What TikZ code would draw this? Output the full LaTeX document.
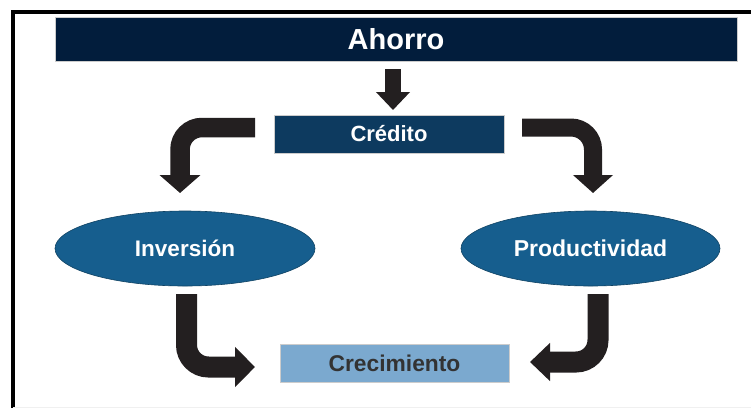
\documentclass[tikz,border=0pt]{standalone}
\usepackage{fontspec}
\setmainfont{Liberation Sans}
\usetikzlibrary{arrows.meta,shapes.geometric}
\definecolor{navy}{HTML}{021D3C}
\definecolor{credblue}{HTML}{0D3A5F}
\definecolor{ellblue}{HTML}{165E8E}
\definecolor{lightblue}{HTML}{7BA9CF}
\definecolor{arrowblack}{HTML}{231F20}
\definecolor{crectext}{HTML}{333333}
\begin{document}
\begin{tikzpicture}[x=1pt,y=-1pt,
  box/.style={rectangle,inner sep=0pt,draw=gray!40,line width=0.8pt},
  oval/.style={ellipse,inner sep=0pt,fill=ellblue,draw=ellblue!70!black,line width=0.6pt,
    text=white},
  fatarrow/.style={draw=arrowblack,line width=#1,rounded corners=22pt},
  fatarrow/.default=20pt]
\useasboundingbox (0,0) rectangle (751,408);
% frame
\draw[line width=3.5pt,black] (13,408) -- (13,12) -- (751,12);
\draw[gray!12,line width=1pt] (13,407.5) -- (751,407.5);
% nodes
\node[box,fill=navy,minimum width=682pt,minimum height=44pt,text=white,
  font=\bfseries\fontsize{29}{34}\selectfont] (ahorro) at (396,39) {Ahorro};
\node[box,fill=credblue,minimum width=230pt,minimum height=38pt,text=white,
  font=\bfseries\fontsize{22}{26}\selectfont] (credito) at (389,134) {Crédito};
\node[oval,minimum width=260pt,minimum height=75pt,
  font=\bfseries\fontsize{22.5}{26}\selectfont] (inversion) at (185,248.5) {Inversión};
\node[oval,minimum width=259pt,minimum height=75pt,
  font=\bfseries\fontsize{23}{26}\selectfont] (productividad) at (590.5,248.5) {Productividad};
\node[box,fill=lightblue,minimum width=229pt,minimum height=38pt,text=crectext,
  font=\bfseries\fontsize{22.8}{26}\selectfont] (crecimiento) at (394.5,363) {Crecimiento};
% arrow end points
\coordinate (a0) at (393,69);
\coordinate (a1) at (393,110);
\coordinate (l0) at (255,127.5);
\coordinate (l1) at (180,127.5);
\coordinate (l2) at (180,193);
\coordinate (r0) at (522,127.5);
\coordinate (r1) at (593,127.5);
\coordinate (r2) at (593,193);
\coordinate (bl0) at (186.5,294);
\coordinate (bl1) at (186.5,367);
\coordinate (bl2) at (255,367);
\coordinate (br0) at (598,294);
\coordinate (br1) at (598,362);
\coordinate (br2) at (530,362);
% arrows
\draw[draw=arrowblack,fill=arrowblack,line width=16pt,
  -{Triangle[width=33pt,length=18pt]}] (a0) -- (a1);
\draw[fatarrow=19.5pt,-{Triangle[width=40pt,length=18pt]},arrowblack] (l0) -- (l1) -- (l2);
\draw[fatarrow=18pt,-{Triangle[width=39pt,length=18pt]},arrowblack] (r0) -- (r1) -- (r2);
\draw[fatarrow=21pt,-{Triangle[width=39pt,length=20pt]},arrowblack] (bl0) -- (bl1) -- (bl2);
\draw[fatarrow=21pt,-{Triangle[width=37pt,length=20pt]},arrowblack] (br0) -- (br1) -- (br2);
\end{tikzpicture}
\end{document}
